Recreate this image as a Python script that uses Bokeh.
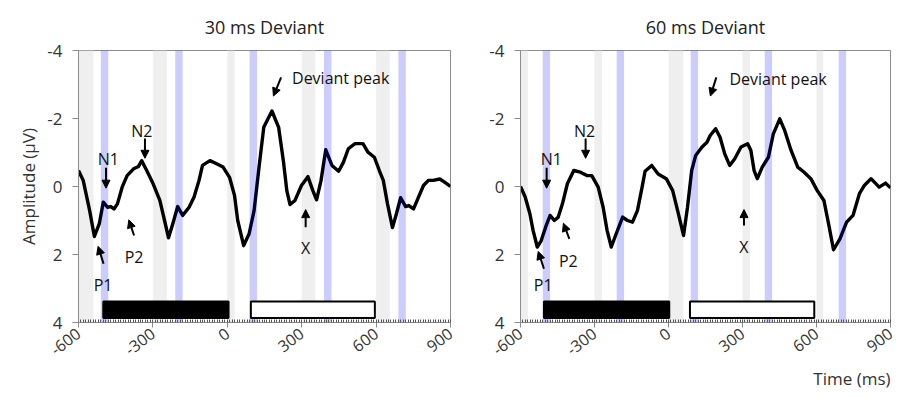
import math
from bokeh.plotting import figure
from bokeh.layouts import row
from bokeh.models import Range1d, FixedTicker, Arrow, NormalHead, Label, Title
from bokeh.embed import file_html
from bokeh.resources import INLINE

# ---------------- data ----------------
titles = ["30 ms Deviant", "60 ms Deviant"]
x_ticks = [-600, -300, 0, 300, 600, 900]
x_tick_labels = ["-600", "-300", "0", "300", "600", "900"]
y_ticks = [-4, -2, 0, 2, 4]
y_tick_labels = ["-4", "-2", "0", "2", "4"]

t30 = [-600, -581, -555, -536, -516, -500, -483, -470, -457, -443,
       -424, -404, -378, -358, -345, -325, -299, -272, -253, -237,
       -220, -200, -180, -154, -134, -114, -100, -70, -43, -17,
       9, 29, 42, 66, 88, 108, 128, 147, 180, 207,
       226, 240, 253, 273, 299, 325, 345, 360, 378, 397,
       422, 449, 468, 488, 515, 547, 567, 593, 613, 629,
       646, 666, 682, 699, 719, 732, 751, 771, 791, 811,
       830, 857, 876, 900]
amp30 = [-0.47, -0.18, 0.71, 1.47, 1.09, 0.46, 0.61, 0.59, 0.66, 0.51,
         0.02, -0.32, -0.52, -0.59, -0.76, -0.47, -0.08, 0.41, 1.0, 1.51,
         1.10, 0.59, 0.85, 0.61, 0.31, -0.18, -0.62, -0.76, -0.67, -0.57,
         -0.27, 0.26, 1.0, 1.74, 1.39, 0.71, -0.57, -1.74, -2.22, -1.74,
         -0.76, 0.12, 0.53, 0.41, -0.03, -0.29, 0.12, 0.39, -0.18, -1.08,
         -0.62, -0.45, -0.71, -1.11, -1.26, -1.26, -1.01, -0.86, -0.47, -0.18,
         0.51, 1.21, 0.80, 0.33, 0.59, 0.56, 0.66, 0.31, -0.03, -0.18,
         -0.18, -0.22, -0.13, 0.0]

t60 = [-600, -581, -562, -549, -532, -516, -496, -480, -463, -447,
       -430, -410, -384, -357, -331, -311, -285, -265, -249, -232,
       -212, -186, -166, -146, -126, -107, -95, -68, -42, -9,
       17, 37, 61, 77, 94, 110, 136, 156, 169, 191,
       209, 228, 248, 268, 294, 321, 334, 347, 360, 380,
       405, 425, 451, 471, 497, 524, 550, 577, 603, 630,
       649, 669, 695, 722, 748, 774, 794, 821, 854, 880,
       900]
amp60 = [0.0, 0.31, 0.80, 1.29, 1.78, 1.59, 1.15, 0.85, 1.0, 0.90,
         0.51, -0.08, -0.47, -0.42, -0.32, -0.32, 0.02, 0.61, 1.29, 1.78,
         1.39, 0.90, 1.0, 1.05, 0.71, 0.02, -0.45, -0.62, -0.37, -0.23,
         0.12, 0.71, 1.44, 0.61, -0.47, -0.91, -1.16, -1.30, -1.50, -1.70,
         -1.45, -0.96, -0.62, -0.81, -1.16, -1.26, -1.06, -0.47, -0.23, -0.57,
         -0.86, -1.55, -1.99, -1.65, -1.06, -0.57, -0.42, -0.23, 0.12, 0.41,
         1.10, 1.86, 1.54, 1.05, 0.85, 0.21, -0.03, -0.23, 0.02, -0.10,
         0.04]

# stimulus (grey) windows and analysis (blue) windows, ms
grey_start30 = [-600, -300, 0, 300, 600]
grey_end30 = [-540, -243, 30, 355, 655]
grey_start60 = [-600, -300, 0, 300, 600]
grey_end60 = [-570, -270, 60, 330, 627]
blue_start = [-510, -210, 90, 390, 690]
blue_end = [-480, -180, 120, 420, 720]

# baseline (black) and response (white) bars, ms
black_bar30 = [-500, 5]
white_bar30 = [95, 595]
black_bar60 = [-505, 3]
white_bar60 = [87, 591]
bar_top, bar_bottom = 3.38, 3.87

FONT = "Open Sans"
TXT = "#333333"
AXC = "#8c8c8c"


def make_panel(title, t, amp, gs, ge, bars_black, bars_white, left, notes, arrows):
    p = figure(frame_width=372 if left else 370, frame_height=272,
               x_range=Range1d(-600, 900), y_range=Range1d(4, -4),
               output_backend="svg", toolbar_location=None,
               min_border_left=78 if left else 62,
               min_border_right=8 if left else 11,
               min_border_top=50, min_border_bottom=0)
    tt = Title(text=title, align="center", text_font=FONT,
               text_font_size="18px", text_color="#222222", standoff=24)
    tt.text_font_style = "normal"
    p.add_layout(tt, "above")
    p.grid.visible = False
    p.outline_line_color = AXC
    p.outline_line_width = 1

    p.quad(left=gs, right=ge, top=-4, bottom=4, fill_color="#efefef", line_color=None)
    p.line(t, amp, line_color="black", line_width=3.4, line_join="round")
    p.quad(left=blue_start, right=blue_end, top=-4, bottom=4,
           fill_color="#0000ff", fill_alpha=0.2, line_color=None)
    p.quad(left=[bars_black[0]], right=[bars_black[1]], top=bar_top, bottom=bar_bottom,
           fill_color="black", line_color="black", line_width=2)
    p.quad(left=[bars_white[0]], right=[bars_white[1]], top=bar_top, bottom=bar_bottom,
           fill_color="white", line_color="black", line_width=2)

    xa = p.xaxis[0]
    xa.ticker = FixedTicker(ticks=x_ticks, minor_ticks=list(range(-600, 901, 10)))
    xa.major_label_overrides = {k: v for k, v in zip(x_ticks, x_tick_labels)}
    xa.major_label_orientation = 0.65
    xa.major_label_text_font = FONT
    xa.major_label_text_font_size = "16px"
    xa.major_label_text_color = TXT
    xa.major_label_standoff = 4
    xa.axis_line_color = AXC
    xa.major_tick_line_color = AXC
    xa.major_tick_out = 5
    xa.major_tick_in = 0
    xa.minor_tick_line_color = "#555555"
    xa.minor_tick_in = 3
    xa.minor_tick_out = 0

    ya = p.yaxis[0]
    ya.ticker = FixedTicker(ticks=y_ticks)
    ya.major_label_overrides = {k: v for k, v in zip(y_ticks, y_tick_labels)}
    ya.major_label_text_font = FONT
    ya.major_label_text_font_size = "17px"
    ya.major_label_text_color = TXT
    ya.major_label_standoff = 10
    ya.axis_line_color = AXC
    ya.major_tick_line_color = AXC
    ya.major_tick_out = 6
    ya.major_tick_in = 0
    ya.minor_tick_line_color = None
    if left:
        ya.axis_label = "Amplitude (\u00b5V)"
        ya.axis_label_text_font = FONT
        ya.axis_label_text_font_size = "17px"
        ya.axis_label_text_font_style = "normal"
        ya.axis_label_text_color = TXT
        ya.axis_label_standoff = 4

    for (x, y, s, al) in notes:
        p.add_layout(Label(x=x, y=y, text=s, text_align=al, text_baseline="middle",
                           text_font=FONT, text_font_size="16px", text_color="#111111"))
    for (x0, y0, x1, y1) in arrows:
        p.add_layout(Arrow(x_start=x0, y_start=y0, x_end=x1, y_end=y1, line_width=2,
                           line_color="black",
                           end=NormalHead(size=8, fill_color="black", line_color="black")))
    return p


notes30 = [(-480, -0.82, "N1", "center"), (-345, -1.62, "N2", "center"),
           (261, -3.2, "Deviant peak", "left"), (316, 1.82, "X", "center"),
           (-501, 2.9, "P1", "center"), (-376, 2.08, "P2", "center")]
arrows30 = [(-489, -0.55, -489, 0.05), (-332, -1.41, -332, -0.83),
            (217, -3.21, 186, -2.66), (316, 1.2, 316, 0.68),
            (-499, 2.27, -521, 1.76), (-376, 1.44, -397, 0.98)]
notes60 = [(-475, -0.82, "N1", "center"), (-340, -1.62, "N2", "center"),
           (247, -3.17, "Deviant peak", "left"), (306, 1.78, "X", "center"),
           (-508, 2.91, "P1", "center"), (-406, 2.18, "P2", "center")]
arrows60 = [(-494, -0.55, -494, 0.05), (-336, -1.41, -336, -0.83),
            (194, -3.21, 170, -2.66), (306, 1.15, 306, 0.68),
            (-505, 2.42, -528, 1.91), (-402, 1.54, -426, 1.08)]

p1 = make_panel(titles[0], t30, amp30, grey_start30, grey_end30, black_bar30, white_bar30,
                True, notes30, arrows30)
p2 = make_panel(titles[1], t60, amp60, grey_start60, grey_end60, black_bar60, white_bar60,
                False, notes60, arrows60)
tx = Title(text="Time (ms)", align="right", text_font=FONT, text_font_size="17px",
           text_color=TXT, standoff=2)
tx.text_font_style = "normal"
p2.add_layout(tx, "below")

layout = row(p1, p2)
open("out.html", "w").write(file_html(layout, INLINE))
